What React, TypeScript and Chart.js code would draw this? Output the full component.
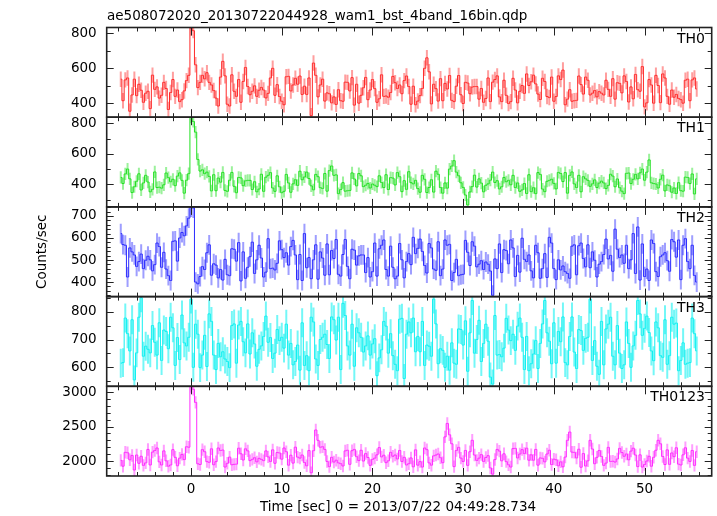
import React, { useEffect, useRef } from "react";
import { Chart, registerables } from "chart.js";
Chart.register(...registerables);

const TITLE = "ae508072020_20130722044928_wam1_bst_4band_16bin.qdp";
const X_TITLE = "Time [sec] 0 = 2013/07/22 04:49:28.734";
const Y_TITLE = "Counts/sec";
const BAND_NAMES = ["TH0", "TH1", "TH2", "TH3", "TH0123"];
const BIN_START = -7.75; // centre of the first bin (sec)
const BIN_WIDTH = 0.25;
const X_MIN = -9.3;
const X_MAX = 57.4;
const X_TICKS = [0, 10, 20, 30, 40, 50];

const TH0 = [
  538, 415, 534, 545, 355, 448, 538, 444, 509, 475,
  406, 458, 469, 370, 561, 480, 494, 430, 446, 520,
  485, 365, 462, 536, 440, 476, 410, 421, 471, 530,
  560, 830, 815, 620, 490, 520, 560, 540, 575, 520,
  505, 473, 430, 385, 550, 640, 557, 395, 385, 563,
  469, 440, 536, 406, 525, 605, 496, 449, 469, 500,
  440, 475, 491, 476, 431, 457, 545, 600, 446, 507,
  439, 412, 392, 552, 554, 471, 505, 543, 509, 556,
  451, 498, 451, 545, 330, 630, 560, 437, 505, 538,
  413, 460, 455, 403, 437, 394, 478, 415, 412, 521,
  520, 471, 547, 390, 509, 401, 446, 489, 548, 421,
  476, 536, 484, 406, 426, 563, 440, 442, 435, 462,
  554, 518, 485, 505, 455, 530, 556, 496, 395, 498,
  392, 413, 444, 485, 600, 660, 580, 397, 509, 484,
  413, 541, 415, 514, 482, 559, 417, 410, 498, 559,
  449, 399, 520, 516, 455, 493, 496, 496, 424, 485,
  406, 428, 545, 410, 521, 536, 557, 437, 410, 532,
  446, 399, 410, 543, 476, 403, 469, 502, 457, 568,
  502, 523, 561, 511, 453, 422, 543, 525, 439, 433,
  550, 412, 439, 557, 536, 590, 392, 424, 478, 412,
  415, 417, 556, 507, 453, 550, 532, 448, 458, 473,
  437, 467, 458, 448, 532, 480, 440, 541, 424, 518,
  514, 460, 557, 525, 408, 494, 426, 565, 478, 469,
  610, 380, 403, 536, 505, 401, 560, 502, 404, 568,
  545, 440, 395, 476, 435, 451, 428, 421, 401, 532,
  538, 415, 534, 545, 482,
];
const TH1 = [
  445, 405, 468, 500, 436, 346, 384, 420, 469, 363,
  409, 459, 415, 351, 367, 481, 379, 381, 375, 397,
  474, 444, 417, 433, 391, 454, 475, 426, 342, 427,
  470, 840, 812, 742, 563, 487, 495, 470, 480, 452,
  357, 463, 358, 441, 414, 478, 360, 354, 427, 478,
  387, 345, 445, 442, 391, 423, 426, 426, 366, 417,
  351, 369, 466, 354, 447, 459, 477, 376, 354, 456,
  384, 345, 354, 465, 409, 348, 403, 430, 393, 486,
  430, 448, 480, 438, 390, 364, 465, 450, 378, 373,
  471, 355, 490, 520, 459, 462, 339, 366, 411, 355,
  358, 360, 475, 435, 390, 471, 456, 385, 394, 406,
  376, 402, 394, 385, 456, 412, 379, 463, 366, 444,
  441, 396, 477, 450, 352, 424, 367, 483, 411, 403,
  426, 372, 348, 459, 433, 346, 379, 430, 349, 486,
  466, 379, 342, 409, 375, 500, 520, 555, 480, 456,
  410, 380, 330, 265, 350, 385, 460, 382, 436, 408,
  351, 394, 403, 427, 480, 412, 424, 370, 384, 445,
  417, 426, 397, 459, 379, 409, 354, 363, 405, 340,
  463, 352, 378, 339, 477, 465, 369, 352, 420, 426,
  433, 406, 370, 478, 471, 418, 477, 342, 459, 481,
  403, 379, 459, 351, 450, 436, 426, 387, 403, 429,
  379, 408, 421, 409, 372, 393, 466, 454, 384, 435,
  378, 355, 339, 472, 474, 405, 433, 465, 436, 475,
  500, 427, 480, 560, 410, 405, 402, 376, 433, 460,
  357, 396, 391, 348, 376, 340, 411, 358, 355, 447,
  445, 405, 468, 337, 436,
];
const TH2 = [
  620, 570, 567, 423, 555, 537, 523, 471, 493, 527,
  461, 499, 517, 501, 451, 479, 577, 561, 467, 535,
  459, 429, 407, 585, 587, 495, 600, 625, 610, 655,
  690, 740, 736, 400, 392, 425, 470, 457, 533, 569,
  431, 483, 477, 419, 457, 409, 503, 433, 429, 551,
  549, 495, 579, 405, 537, 417, 467, 515, 581, 439,
  501, 567, 509, 423, 445, 597, 461, 463, 455, 485,
  587, 547, 511, 533, 477, 561, 589, 523, 411, 525,
  407, 620, 465, 511, 415, 501, 569, 413, 537, 509,
  431, 573, 433, 543, 507, 593, 435, 427, 525, 593,
  471, 415, 549, 545, 477, 519, 523, 523, 443, 511,
  423, 447, 577, 427, 551, 567, 591, 457, 427, 563,
  467, 415, 427, 575, 501, 419, 493, 529, 479, 603,
  529, 553, 595, 539, 475, 441, 575, 555, 459, 453,
  583, 429, 459, 591, 567, 571, 407, 443, 503, 429,
  433, 435, 589, 535, 475, 583, 563, 469, 481, 497,
  457, 491, 481, 450, 340, 505, 461, 573, 443, 547,
  543, 483, 591, 555, 425, 521, 445, 599, 503, 493,
  523, 451, 419, 567, 533, 417, 461, 529, 421, 603,
  577, 461, 411, 501, 455, 473, 447, 439, 417, 563,
  569, 433, 565, 577, 507, 469, 569, 465, 537, 499,
  423, 481, 493, 525, 595, 505, 521, 449, 640, 549,
  511, 523, 485, 567, 461, 501, 620, 439, 650, 409,
  573, 425, 459, 407, 591, 575, 447, 425, 515, 523,
  533, 497, 449, 593, 583, 513, 591, 411, 567, 597,
  493, 461, 567, 430, 400,
];
const TH3 = [
  615, 617, 777, 721, 659, 771, 555, 652, 780, 850,
  640, 676, 665, 652, 750, 690, 644, 760, 625, 734,
  729, 667, 780, 742, 607, 707, 628, 788, 688, 677,
  708, 845, 600, 755, 719, 599, 644, 715, 603, 792,
  765, 644, 592, 686, 638, 656, 630, 621, 599, 750,
  756, 615, 752, 765, 692, 652, 756, 648, 724, 684,
  604, 665, 677, 711, 784, 690, 707, 632, 651, 736,
  696, 708, 669, 755, 644, 686, 609, 621, 680, 590,
  760, 607, 642, 588, 780, 763, 630, 607, 700, 708,
  719, 682, 632, 781, 771, 698, 780, 592, 830, 786,
  677, 644, 755, 604, 742, 724, 708, 655, 677, 713,
  644, 684, 703, 570, 634, 663, 765, 748, 651, 721,
  642, 611, 588, 773, 776, 560, 719, 763, 724, 777,
  656, 711, 656, 765, 607, 680, 676, 640, 845, 756,
  613, 667, 661, 600, 640, 590, 688, 615, 611, 738,
  736, 680, 767, 586, 724, 840, 651, 700, 769, 621,
  686, 755, 694, 565, 540, 786, 644, 646, 638, 669,
  776, 734, 696, 719, 661, 748, 777, 708, 592, 711,
  588, 613, 648, 696, 596, 686, 756, 840, 724, 694,
  613, 760, 615, 729, 692, 781, 617, 609, 711, 781,
  655, 596, 736, 732, 661, 704, 708, 845, 625, 696,
  604, 575, 765, 609, 738, 755, 780, 640, 609, 750,
  651, 596, 609, 763, 686, 600, 677, 715, 840, 792,
  715, 740, 784, 725, 659, 624, 763, 742, 642, 636,
  771, 611, 642, 780, 755, 759, 588, 625, 688, 611,
  615, 617, 777, 721, 659,
];
const TH0123 = [
  2009, 1925, 2126, 2120, 2018, 2081, 1870, 2087, 1967, 2069,
  1937, 1973, 2168, 1943, 2129, 2153, 2189, 1988, 1943, 2147,
  2003, 1925, 1943, 2165, 2054, 1931, 2042, 2096, 2021, 2207,
  2200, 3080, 3040, 2850, 1960, 1950, 2165, 2135, 1991, 1982,
  2177, 1946, 1991, 2189, 2153, 2159, 1913, 1967, 2057, 1946,
  1952, 1955, 2186, 2105, 2015, 2177, 2147, 2006, 2024, 2048,
  1988, 2039, 2024, 2006, 2147, 2060, 1994, 2162, 1967, 2123,
  2117, 2027, 2189, 2135, 1940, 2084, 1970, 2201, 2057, 2042,
  2087, 1979, 1931, 2153, 1830, 2150, 2450, 2300, 2200, 2207,
  2168, 1994, 1919, 2054, 1985, 2012, 1973, 1961, 1928, 2147,
  2156, 1952, 2150, 2168, 2063, 2006, 2156, 2000, 2108, 2051,
  1937, 2024, 2042, 2090, 2195, 2060, 2084, 1976, 2003, 2126,
  2069, 2087, 2030, 2153, 1994, 2054, 1943, 1961, 2045, 1916,
  2162, 1940, 1991, 1913, 2189, 2165, 1973, 1940, 2075, 2087,
  2102, 2048, 1976, 2350, 2545, 2380, 2250, 1919, 2153, 2198,
  2042, 1994, 2153, 1937, 2135, 2300, 2087, 2009, 2042, 2093,
  1994, 2051, 2078, 1900, 1810, 2021, 2168, 2144, 2003, 2105,
  1991, 1946, 1913, 2180, 2183, 2045, 2102, 2165, 2108, 2186,
  2012, 2090, 2012, 2168, 1940, 2045, 2039, 1988, 2102, 2156,
  1949, 2027, 2018, 1931, 1988, 1916, 2057, 2300, 2420, 2129,
  2126, 2045, 2171, 1910, 2108, 1928, 2003, 2300, 2174, 1961,
  2054, 2153, 2066, 1937, 1970, 2198, 1994, 1997, 1985, 2030,
  2183, 2123, 2069, 2102, 2018, 2144, 2186, 2087, 1919, 2090,
  1913, 1949, 2000, 2069, 1925, 2054, 2156, 2300, 2250, 2066,
  1949, 2162, 1952, 2117, 2063, 2192, 1955, 1943, 2090, 2192,
  2042, 1994, 2153, 1937, 2135,
];

const SERIES = [TH0, TH1, TH2, TH3, TH0123];
const ERRORS = [44, 40, 45, 52, 90]; // typical 1-sigma half-width per band
const Y_RANGES = [
  [321, 833],
  [252, 840],
  [334, 741],
  [532, 854],
  [1783, 3083],
];
const Y_TICKS = [
  [400, 600, 800],
  [400, 600, 800],
  [400, 500, 600, 700],
  [600, 700, 800],
  [2000, 2500, 3000],
];
const Y_MINOR = [100, 100, 20, 50, 100];
const X_MINOR = 2;
const COLORS = ["#ff2a2a", "#22e022", "#2a2aff", "#10f0f0", "#ff2aff"];
const ERR_COLORS = [
  "rgba(255,40,40,0.45)",
  "rgba(34,224,34,0.45)",
  "rgba(40,40,255,0.45)",
  "rgba(0,240,240,0.55)",
  "rgba(255,40,255,0.45)",
];

const FONT = "'DejaVu Sans', sans-serif";
const FRAME = "#222";

const qdpPlugin = {
  id: "qdp",
  beforeDatasetsDraw(chart: any) {
    const ctx = chart.ctx;
    const xs = chart.scales.x;
    ctx.save();
    SERIES.forEach((arr, k) => {
      const ys = chart.scales["p" + k];
      ctx.strokeStyle = ERR_COLORS[k];
      ctx.lineWidth = 2;
      ctx.beginPath();
      arr.forEach((v, i) => {
        const px = xs.getPixelForValue(BIN_START + i * BIN_WIDTH);
        let y1 = ys.getPixelForValue(v + ERRORS[k]);
        let y2 = ys.getPixelForValue(v - ERRORS[k]);
        y1 = Math.max(y1, ys.top);
        y2 = Math.min(y2, ys.bottom);
        ctx.moveTo(px, y1);
        ctx.lineTo(px, y2);
      });
      ctx.stroke();
    });
    ctx.restore();
  },
  afterDraw(chart: any) {
    const ctx = chart.ctx;
    const xs = chart.scales.x;
    const area = chart.chartArea;
    ctx.save();
    ctx.strokeStyle = FRAME;
    ctx.lineWidth = 1;
    for (let k = 0; k < 5; k++) {
      const ys = chart.scales["p" + k];
      const [lo, hi] = Y_RANGES[k];
      const step = Y_MINOR[k];
      ctx.beginPath();
      for (let v = Math.ceil(lo / step) * step; v <= hi; v += step) {
        const py = Math.round(ys.getPixelForValue(v)) + 0.5;
        const major = Y_TICKS[k].includes(v);
        const len = major ? 7 : 4;
        ctx.moveTo(area.left, py);
        ctx.lineTo(area.left + len, py);
        ctx.moveTo(area.right, py);
        ctx.lineTo(area.right - len, py);
      }
      for (let t = Math.ceil(X_MIN / X_MINOR) * X_MINOR; t <= X_MAX; t += X_MINOR) {
        const px = Math.round(xs.getPixelForValue(t)) + 0.5;
        const major = t % 10 === 0;
        const len = major ? 8 : 4;
        ctx.moveTo(px, ys.top);
        ctx.lineTo(px, ys.top + len);
        ctx.moveTo(px, ys.bottom);
        ctx.lineTo(px, ys.bottom - len);
      }
      ctx.stroke();
    }
    ctx.lineWidth = 1.6;
    for (let k = 0; k < 5; k++) {
      const ys = chart.scales["p" + k];
      ctx.strokeRect(area.left, ys.top, area.right - area.left, ys.bottom - ys.top);
    }
    ctx.fillStyle = "#000";
    ctx.font = `13.5px ${FONT}`;
    ctx.textAlign = "left";
    ctx.textBaseline = "alphabetic";
    ctx.fillText(TITLE, 107, 20);
    ctx.textAlign = "center";
    ctx.fillText(X_TITLE, 398, 511);
    ctx.save();
    ctx.translate(46, (area.top + area.bottom) / 2);
    ctx.rotate(-Math.PI / 2);
    ctx.fillText(Y_TITLE, 0, 0);
    ctx.restore();
    ctx.textAlign = "right";
    ctx.font = `14px ${FONT}`;
    for (let k = 0; k < 5; k++) {
      const ys = chart.scales["p" + k];
      ctx.fillText(BAND_NAMES[k], 705, ys.top + 15);
    }
    ctx.restore();
  },
};

export default function App() {
  const ref = useRef<HTMLCanvasElement | null>(null);
  useEffect(() => {
    if (!ref.current) return;
    const scales: any = {
      x: {
        type: "linear",
        min: X_MIN,
        max: X_MAX,
        grid: { display: false, drawTicks: false },
        border: { display: false },
        ticks: {
          font: { family: FONT, size: 13.5 },
          color: "#000",
          padding: 5,
          maxRotation: 0,
          autoSkip: false,
          callback: (v: any) => String(v),
        },
        afterBuildTicks: (s: any) => {
          s.ticks = X_TICKS.map((v) => ({ value: v }));
        },
        afterFit: (s: any) => {
          s.height = 40;
        },
      },
    };
    for (let k = 4; k >= 0; k--) {
      scales["p" + k] = {
        type: "linear",
        position: "left",
        stack: "panels",
        stackWeight: 1,
        offset: false,
        min: Y_RANGES[k][0],
        max: Y_RANGES[k][1],
        grid: { display: false, drawTicks: false },
        border: { display: false },
        ticks: {
          font: { family: FONT, size: 13.5 },
          color: "#000",
          padding: 10,
          autoSkip: false,
          callback: (v: any) => String(v),
        },
        afterBuildTicks: (s: any) => {
          s.ticks = Y_TICKS[k].map((v) => ({ value: v }));
        },
        afterFit: (s: any) => {
          s.width = 106.7;
        },
      };
    }
    const chart = new Chart(ref.current, {
      type: "line",
      data: {
        datasets: SERIES.map((arr, k) => ({
          label: BAND_NAMES[k],
          data: arr.map((v, i) => ({ x: BIN_START + i * BIN_WIDTH, y: v })),
          yAxisID: "p" + k,
          borderColor: COLORS[k],
          borderWidth: 1,
          pointRadius: 0,
          stepped: "middle",
          fill: false,
        })),
      } as any,
      options: {
        animation: false,
        responsive: false,
        maintainAspectRatio: false,
        devicePixelRatio: 1,
        layout: { padding: { top: 27.5, right: 5.3, left: 0, bottom: 0 } },
        plugins: {
          legend: { display: false },
          tooltip: { enabled: false },
          title: { display: false },
        },
        scales,
      } as any,
      plugins: [qdpPlugin],
    });
    return () => chart.destroy();
  }, []);
  return (
    <div style={{ position: "absolute", left: 0, top: 0, width: 717, height: 516, background: "#fff" }}>
      <canvas ref={ref} width={717} height={516} style={{ display: "block" }} />
    </div>
  );
}
